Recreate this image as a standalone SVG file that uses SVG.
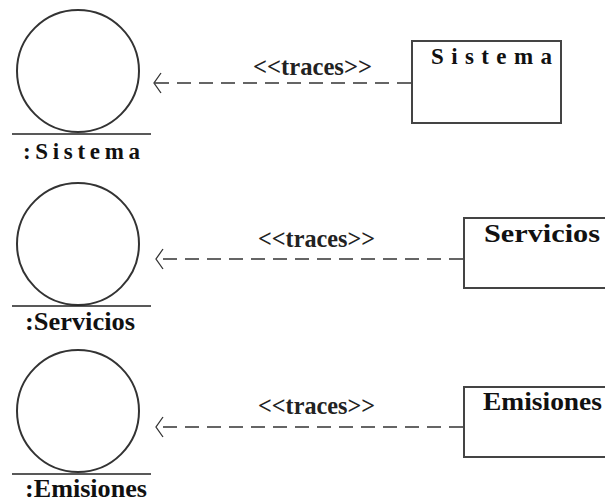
<svg xmlns="http://www.w3.org/2000/svg" width="605" height="504" viewBox="0 0 605 504">
  <style>
    .obj { fill: #fff; stroke: #333; stroke-width: 2; }
    .base { stroke: #222; stroke-width: 1.5; }
    .box { fill: #fff; stroke: #444; stroke-width: 2; }
    .lbl { font-family: "Liberation Serif", "Times New Roman", serif; font-weight: bold; fill: #111; }
    .dep { fill: none; stroke: #333; stroke-width: 1.5; stroke-dasharray: 14 8; }
    .head { fill: none; stroke: #333; stroke-width: 1.3; }
    .st { font-family: "Liberation Serif", "Times New Roman", serif; font-weight: bold; font-size: 26px; fill: #222; }
  </style>
  <rect width="605" height="504" fill="#fff"/>

  <!-- object: Sistema -->
  <g id="obj-sistema">
    <circle class="obj" cx="78" cy="71" r="61"/>
    <line class="base" x1="12" y1="134" x2="151" y2="134"/>
    <text class="lbl" x="23" y="159" font-size="23" textLength="117" lengthAdjust="spacing">:Sistema</text>
  </g>
  <!-- object: Servicios -->
  <g id="obj-servicios">
    <circle class="obj" cx="78" cy="244" r="61"/>
    <line class="base" x1="12" y1="306" x2="151" y2="306"/>
    <text class="lbl" x="25" y="330" font-size="25" textLength="110" lengthAdjust="spacingAndGlyphs">:Servicios</text>
  </g>
  <!-- object: Emisiones -->
  <g id="obj-emisiones">
    <circle class="obj" cx="78" cy="411" r="61"/>
    <line class="base" x1="12" y1="474" x2="151" y2="474"/>
    <text class="lbl" x="25" y="497" font-size="26" textLength="122" lengthAdjust="spacingAndGlyphs">:Emisiones</text>
  </g>

  <!-- class boxes -->
  <g id="cls-sistema">
    <rect class="box" x="412" y="41" width="149" height="82"/>
    <text class="lbl" x="431" y="64" font-size="23" textLength="121" lengthAdjust="spacing">Sistema</text>
  </g>
  <g id="cls-servicios">
    <rect class="box" x="464" y="218" width="150" height="70"/>
    <text class="lbl" x="484" y="242" font-size="26" textLength="116" lengthAdjust="spacingAndGlyphs">Servicios</text>
  </g>
  <g id="cls-emisiones">
    <rect class="box" x="464" y="387" width="150" height="70"/>
    <text class="lbl" x="483" y="410" font-size="26" textLength="119" lengthAdjust="spacingAndGlyphs">Emisiones</text>
  </g>

  <!-- trace dependencies -->
  <g id="connectors">
    <line class="dep" x1="411" y1="83" x2="154" y2="83"/>
    <polyline class="head" points="161,73 154,83 161,93"/>
    <text class="st" x="253" y="75" textLength="119" lengthAdjust="spacingAndGlyphs">&lt;&lt;traces&gt;&gt;</text>

    <line class="dep" x1="463" y1="259" x2="156" y2="259"/>
    <polyline class="head" points="163,249 156,259 163,269"/>
    <text class="st" x="258" y="247" textLength="117" lengthAdjust="spacingAndGlyphs">&lt;&lt;traces&gt;&gt;</text>

    <line class="dep" x1="463" y1="427" x2="156" y2="427"/>
    <polyline class="head" points="163,417 156,427 163,437"/>
    <text class="st" x="258" y="414" textLength="117" lengthAdjust="spacingAndGlyphs">&lt;&lt;traces&gt;&gt;</text>
  </g>
</svg>
